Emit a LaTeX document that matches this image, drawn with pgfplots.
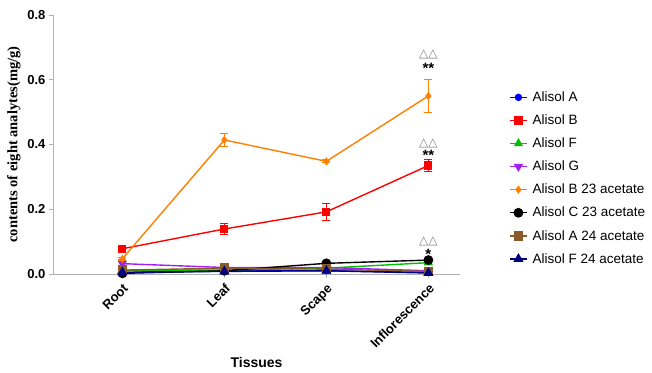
\documentclass[border=0pt]{standalone}
\usepackage{fontspec}
\setmainfont{Liberation Sans}
\newfontfamily\serifb{Liberation Serif}
\newfontfamily\dejavu{DejaVu Sans}
\usepackage{pgfplots}
\pgfplotsset{compat=1.18}
\definecolor{cA}{HTML}{0000FF}
\definecolor{cB}{HTML}{FF0000}
\definecolor{cF}{HTML}{00C000}
\definecolor{cG}{HTML}{A020F0}
\definecolor{cB23}{HTML}{FF8000}
\definecolor{cC23}{HTML}{000000}
\definecolor{cA24}{HTML}{8B5A2B}
\definecolor{cF24}{HTML}{000080}
\begin{document}
\begin{tikzpicture}[x=1pt,y=1pt]
\path[use as bounding box] (-53,-98) rectangle (599,274);
\begin{axis}[
  at={(0,0)}, anchor=south west,
  width=407pt, height=259pt, scale only axis,
  xmin=-0.68, xmax=3.31, ymin=0, ymax=0.8,
  axis lines=left, axis line style={gray!60, -},
  tick style={gray!60, thick}, tick align=outside, major tick length=4pt,
  xtick={0,1,2,3}, xticklabels={Root,Leaf,Scape,Inflorescence},
  x tick label style={rotate=45, anchor=north east, font=\fontsize{13}{13}\selectfont\bfseries},
  ytick={0,0.2,0.4,0.6,0.8},
  y tick label style={font=\fontsize{13}{13}\selectfont\bfseries},
  /pgf/number format/assume math mode=true,
  yticklabel style={/pgf/number format/.cd, fixed, fixed zerofill, precision=1},
  xlabel={Tissues},
  xlabel style={font=\fontsize{14}{14}\selectfont\bfseries},
  ylabel={contents of eight analytes(mg/g)},
  ylabel style={font=\fontsize{14.5}{14.5}\selectfont\serifb\bfseries},
  legend style={at={(1.113,0.72)}, anchor=north west, draw=none, fill=none,
    font=\fontsize{13.5}{15}\selectfont, row sep=7.8pt, cells={anchor=west},
    nodes={inner xsep=5pt}},
  legend image post style={xshift=-6pt},
  every axis plot/.append style={line width=1.4pt},
  error bars/error bar style={line width=1.2pt},
  error bars/error mark options={rotate=90, mark size=4pt, line width=1.2pt},
]
\addplot[color=cA, mark=*, mark size=3pt] coordinates {(0,0.005) (1,0.010) (2,0.010) (3,0.005)};
\addlegendentry{Alisol A}
\addplot[color=cB, mark=square*, mark size=3.4pt, error bars/.cd, y dir=both, y explicit] coordinates {
 (0,0.078) +- (0,0.010)
 (1,0.139) +- (0,0.016)
 (2,0.192) +- (0,0.026)
 (3,0.335) +- (0,0.019)};
\addlegendentry{Alisol B}
\addplot[color=cF, mark=triangle*, mark size=4pt] coordinates {(0,0.012) (1,0.012) (2,0.018) (3,0.035)};
\addlegendentry{Alisol F}
\addplot[color=cG, mark=triangle*, mark options={rotate=180}, mark size=4pt] coordinates {(0,0.032) (1,0.020) (2,0.020) (3,0.010)};
\addlegendentry{Alisol G}
\addplot[color=cB23, mark=diamond*, mark size=3pt, error bars/.cd, y dir=both, y explicit] coordinates {
 (0,0.047) +- (0,0.004)
 (1,0.414) +- (0,0.021)
 (2,0.348) +- (0,0.004)
 (3,0.550) +- (0,0.052)};
\addlegendentry{Alisol B 23 acetate}
\addplot[color=cC23, mark=*, mark size=4.2pt] coordinates {(0,0.002) (1,0.010) (2,0.033) (3,0.043)};
\addlegendentry{Alisol C 23 acetate}
\addplot[color=cA24, mark=square*, mark size=4pt] coordinates {(0,0.012) (1,0.018) (2,0.015) (3,0.008)};
\addlegendentry{Alisol A 24 acetate}
\addplot[color=cF24, mark=triangle*, mark size=4.5pt] coordinates {(0,0.005) (1,0.008) (2,0.010) (3,0.003)};
\addlegendentry{Alisol F 24 acetate}
\node[gray, font=\dejavu\fontsize{12}{12}\selectfont] at (axis cs:3,0.679) {△△};
\node[font=\fontsize{15}{15}\selectfont\bfseries] at (axis cs:3,0.636) {**};
\node[gray, font=\dejavu\fontsize{12}{12}\selectfont] at (axis cs:3,0.404) {△△};
\node[font=\fontsize{15}{15}\selectfont\bfseries] at (axis cs:3,0.367) {**};
\node[gray, font=\dejavu\fontsize{12}{12}\selectfont] at (axis cs:3,0.102) {△△};
\node[font=\fontsize{15}{15}\selectfont\bfseries] at (axis cs:3,0.062) {*};
\end{axis}
\end{tikzpicture}
\end{document}
